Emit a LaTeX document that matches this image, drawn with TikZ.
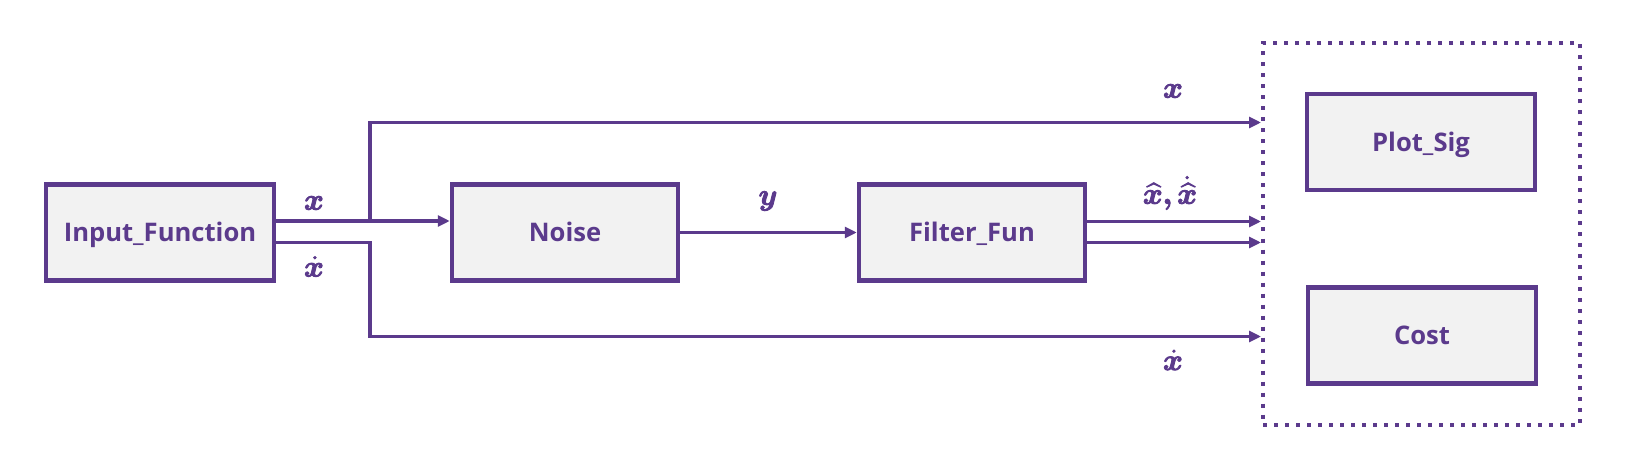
\RequirePackage{fix-cm}
\documentclass[tikz,border=0pt]{standalone}
\usepackage{amsmath}
\usepackage{bm}
\usepackage{fontspec}
\setmainfont{Open Sans}
\usetikzlibrary{arrows.meta}
\definecolor{pur}{HTML}{5B3A8C}
\definecolor{boxfill}{HTML}{F2F2F2}
\newcommand\heavy[1]{\special{pdf:literal direct 2 Tr 0.9 w}#1\special{pdf:literal direct 0 Tr}}
\begin{document}
\begin{tikzpicture}[x=1pt,y=-1pt,
  blk/.style={draw=pur,line width=4.5pt,fill=boxfill,text=pur,inner sep=0pt,
    minimum width=226pt,minimum height=96pt,text height=18.3pt,text depth=0pt,
    font=\fontsize{25.6}{28}\selectfont\bfseries},
  arr/.style={draw=pur,line width=3.2pt,-{Triangle[length=12pt,width=11pt]}},
  lbl/.style={text=pur,inner sep=0pt,font=\fontsize{30}{34}\selectfont},
  cont/.style={draw=pur,line width=4pt,dash pattern=on 4pt off 7pt,inner sep=0pt,
    minimum width=317pt,minimum height=381pt}]
\useasboundingbox (0,0) rectangle (1629,473);
\node[blk,minimum width=228pt] (in) at (160,232.5) {Input\_Function};
\node[blk] (noise) at (565,232.5) {Noise};
\node[blk] (filt) at (972,232.5) {Filter\_Fun};
\node[cont] (box) at (1421.5,234) {};
\node[blk,minimum width=228pt] (plot) at (1421,142) {Plot\_Sig};
\node[blk,minimum width=228pt] (cost) at (1422,335.5) {Cost};
\coordinate (b1) at (370,221);
\coordinate (t1) at (370,122.5);
\coordinate (t2) at (370,336.5);
% connectors
\draw[arr] ([yshift=11.5pt]in.east) -- ([yshift=11.5pt]noise.west);
\draw[arr] (b1) -- (t1) -- (box.west |- t1);
\draw[arr] ([yshift=-10pt]in.east) -| (t2) -- (box.west |- t2);
\draw[arr] (noise.east) -- (filt.west);
\draw[arr] ([yshift=11pt]filt.east) -- ([yshift=11pt]filt.east -| box.west);
\draw[arr] ([yshift=-10pt]filt.east) -- ([yshift=-10pt]filt.east -| box.west);
% labels
\node[lbl] (lx1) at (314,203) {\heavy{$\bm{x}$}};
\node[lbl] (lxd1) at (314,266.5) {\heavy{$\bm{\dot{x}}$}};
\node[lbl] (ly) at (768,201) {\heavy{$\bm{y}$}};
\node[lbl] (lhat) at (1170,193) {\heavy{$\bm{\widehat{x},\dot{\widehat{x}}}$}};
\node[lbl] (lx2) at (1173,91) {\heavy{$\bm{x}$}};
\node[lbl] (lxd2) at (1173,360) {\heavy{$\bm{\dot{x}}$}};
\end{tikzpicture}
\end{document}
